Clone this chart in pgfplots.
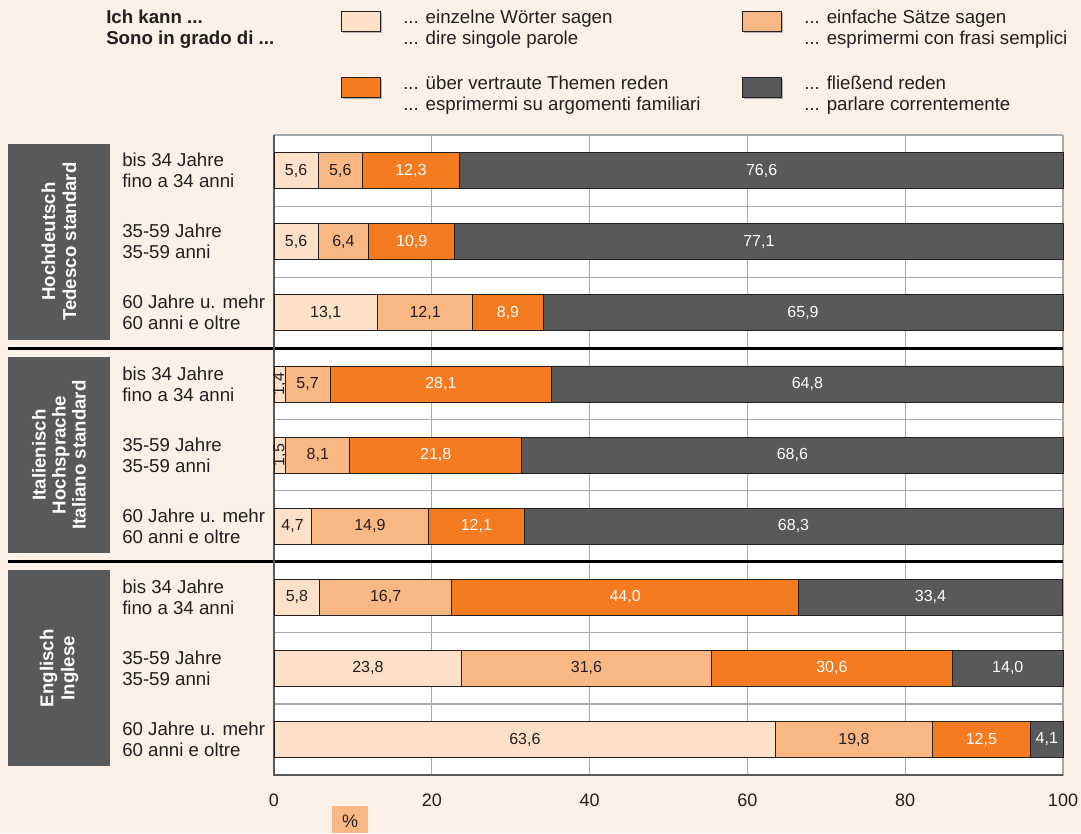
\documentclass[border=0pt]{standalone}
\usepackage{pgfplots}
\pgfplotsset{compat=1.18}
\usepackage{pgfplotstable}
\usetikzlibrary{calc}
\usepackage{fontspec}
\setmainfont{Liberation Sans}
\definecolor{bg}{HTML}{FDF0E6}
\definecolor{cA}{HTML}{FDE0C8}
\definecolor{cB}{HTML}{F9B784}
\definecolor{cC}{HTML}{F47B20}
\definecolor{cD}{HTML}{58595B}
\definecolor{txt}{HTML}{231F20}
\definecolor{gridc}{HTML}{A7A9AC}

\pgfplotstableread{
row a b c d
0 5.6 5.6 12.3 76.6
1 5.6 6.4 10.9 77.1
2 13.1 12.1 8.9 65.9
3 1.4 5.7 28.1 64.8
4 1.5 8.1 21.8 68.6
5 4.7 14.9 12.1 68.3
6 5.8 16.7 44.0 33.4
7 23.8 31.6 30.6 14.0
8 63.6 19.8 12.5 4.1
}\data

\newcommand\legbox[3]{%
  \fill[black!30] (#1+2,#2+2) rectangle (#1+41,#2+22);
  \filldraw[fill=#3, draw=txt, line width=0.6pt] (#1,#2) rectangle (#1+39,#2+20);}

\begin{document}
\begin{tikzpicture}
\path[use as bounding box] (0,0) rectangle (810.75pt,624.75pt);
\fill[bg] (0,0) rectangle (810.75pt,624.75pt);

\pgfplotsset{
  common/.style={at={(205.5pt,43.5pt)}, anchor=south west,
    width=591.75pt, height=480pt, scale only axis,
    xmin=0, xmax=100, ymin=-0.5, ymax=8.5, y dir=reverse, clip=false}
}

\begin{axis}[common, xbar stacked, bar width=27pt,
  axis background/.style={fill=white},
  axis line style={draw=gridc, line width=0.6pt},
  xtick={0,20,...,100}, xmajorgrids,
  major grid style={draw=gridc, line width=0.9pt},
  ytick={0,...,8}, minor ytick={-0.5,0.5,...,8.5}, yminorgrids,
  minor grid style={draw=gridc, line width=0.9pt},
  major tick length=0pt, minor tick length=0pt,
  yticklabels={{bis 34 Jahre\\fino a 34 anni},{35-59 Jahre\\35-59 anni},{60 Jahre u. mehr\\60 anni e oltre},
               {bis 34 Jahre\\fino a 34 anni},{35-59 Jahre\\35-59 anni},{60 Jahre u. mehr\\60 anni e oltre},
               {bis 34 Jahre\\fino a 34 anni},{35-59 Jahre\\35-59 anni},{60 Jahre u. mehr\\60 anni e oltre}},
  yticklabel style={anchor=west, align=left, inner sep=0pt, xshift=-114pt,
    font=\fontsize{14}{15.75}\selectfont, text=txt},
  xticklabel style={anchor=north, inner sep=0pt, yshift=-13.9pt,
    font=\fontsize{13.5}{15}\selectfont, text=txt},
  /pgf/number format/assume math mode=true,
  every axis plot/.append style={draw=txt, line width=0.6pt},
]
\addplot[fill=cA] table[x=a,y=row]{\data};
\addplot[fill=cB] table[x=b,y=row]{\data};
\addplot[fill=cC] table[x=c,y=row]{\data};
\addplot[fill=cD] table[x=d,y=row]{\data};

\draw[cD, line width=1.5pt] (axis cs:0,-0.5) -- (axis cs:0,8.5) -- (axis cs:100,8.5);
\draw[black, line width=2pt] ([xshift=-199.5pt]axis cs:0,2.5) -- (axis cs:100,2.5);
\draw[black, line width=2pt] ([xshift=-199.5pt]axis cs:0,5.5) -- (axis cs:100,5.5);

\coordinate (g1a) at ([xshift=-199.5pt]axis cs:0,-0.38);
\coordinate (g1b) at ([xshift=-123pt]axis cs:0,2.38);
\coordinate (g2a) at ([xshift=-199.5pt]axis cs:0,2.62);
\coordinate (g2b) at ([xshift=-123pt]axis cs:0,5.38);
\coordinate (g3a) at ([xshift=-199.5pt]axis cs:0,5.62);
\coordinate (g3b) at ([xshift=-123pt]axis cs:0,8.38);
\end{axis}

\begin{axis}[common, hide axis,
  /pgf/number format/assume math mode=true,
  point meta=explicit,
  nodes near coords={\pgfmathprintnumber[fixed,fixed zerofill,precision=1,use comma]{\pgfplotspointmeta}},
  every node near coord/.append style={anchor=center, inner sep=0pt, font=\fontsize{12}{13}\selectfont},
]
\addplot[draw=none, mark=none, skip coords between index={3}{5},
  every node near coord/.append style={text=txt}]
  table[x expr=\thisrow{a}/2, y=row, meta=a]{\data};
\addplot[draw=none, mark=none, restrict expr to domain={\coordindex}{3:4},
  every node near coord/.append style={text=txt, rotate=90}]
  table[x expr=\thisrow{a}/2, y=row, meta=a]{\data};
\addplot[draw=none, mark=none, every node near coord/.append style={text=txt}]
  table[x expr=\thisrow{a}+\thisrow{b}/2, y=row, meta=b]{\data};
\addplot[draw=none, mark=none, every node near coord/.append style={text=white}]
  table[x expr=\thisrow{a}+\thisrow{b}+\thisrow{c}/2, y=row, meta=c]{\data};
\addplot[draw=none, mark=none, every node near coord/.append style={text=white}]
  table[x expr=\thisrow{a}+\thisrow{b}+\thisrow{c}+\thisrow{d}/2, y=row, meta=d]{\data};
\end{axis}

\fill[cD] (g1a) rectangle (g1b);
\fill[cD] (g2a) rectangle (g2b);
\fill[cD] (g3a) rectangle (g3b);
\node[rotate=90, align=center, text=white, font=\bfseries\fontsize{14}{15.75}\selectfont]
  at ($(g1a)!0.5!(g1b)$) {Hochdeutsch\\Tedesco standard};
\node[rotate=90, align=center, text=white, font=\bfseries\fontsize{14}{15}\selectfont]
  at ($(g2a)!0.5!(g2b)$) {Italienisch\\Hochsprache\\Italiano standard};
\node[rotate=90, align=center, text=white, font=\bfseries\fontsize{14}{15.75}\selectfont]
  at ($(g3a)!0.5!(g3b)$) {Englisch\\Inglese};

\begin{scope}[x=0.75pt, y=-0.75pt, shift={(0pt,624.75pt)}]
  \node[anchor=west, align=left, inner sep=0pt, text=txt, font=\bfseries\fontsize{14}{15.75}\selectfont]
    at (106,29) {Ich kann ...\\Sono in grado di ...};
  \legbox{341}{11}{cA}
  \legbox{742}{11}{cB}
  \legbox{341}{77}{cC}
  \legbox{742}{77}{cD}
  \node[anchor=west, align=left, inner sep=0pt, text=txt, font=\fontsize{14}{15.75}\selectfont]
    at (403,29) {... einzelne Wörter sagen\\... dire singole parole};
  \node[anchor=west, align=left, inner sep=0pt, text=txt, font=\fontsize{14}{15.75}\selectfont]
    at (804,29) {... einfache Sätze sagen\\... esprimermi con frasi semplici};
  \node[anchor=west, align=left, inner sep=0pt, text=txt, font=\fontsize{14}{15.75}\selectfont]
    at (403,95) {... über vertraute Themen reden\\... esprimermi su argomenti familiari};
  \node[anchor=west, align=left, inner sep=0pt, text=txt, font=\fontsize{14}{15.75}\selectfont]
    at (804,95) {... fließend reden\\... parlare correntemente};
  \fill[cB] (332,806) rectangle (368,833);
  \node[text=txt, font=\fontsize{13.5}{15}\selectfont] at (350,821) {\%};
\end{scope}
\end{tikzpicture}
\end{document}
